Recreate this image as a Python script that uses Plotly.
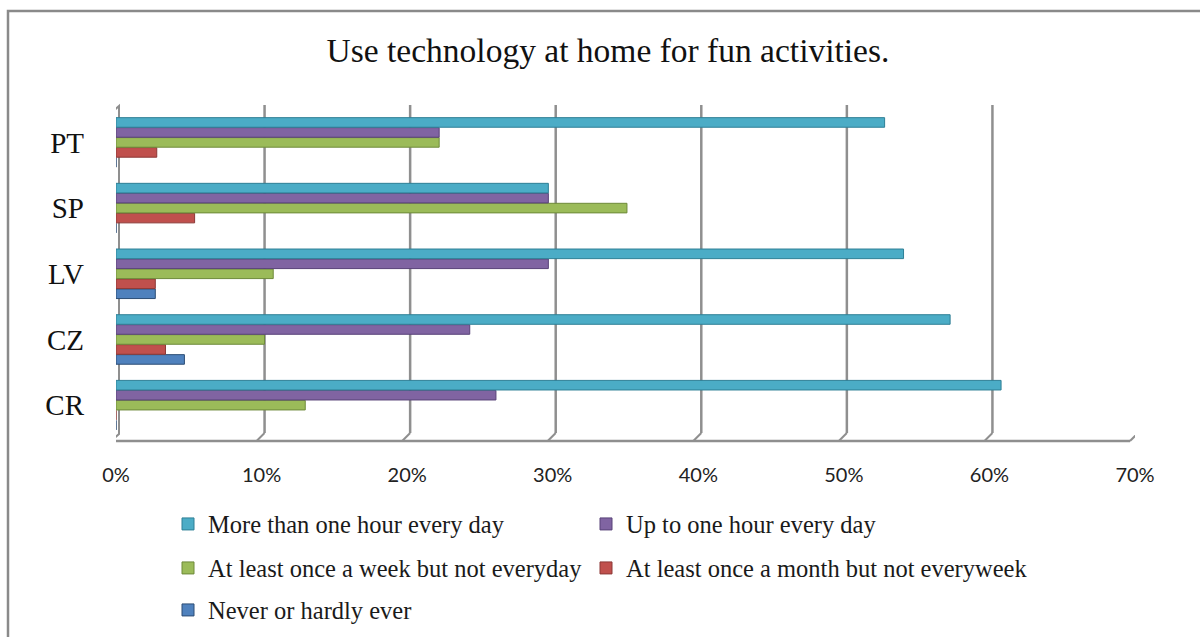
import plotly.graph_objects as go

# Survey answers by country (share of pupils)
countries = ["CR", "CZ", "LV", "SP", "PT"]
never_or_hardly = [0.0, 4.7, 2.7, 0.0, 0.0]
month_not_week = [0.0, 3.4, 2.7, 5.4, 2.8]
week_not_day = [13.0, 10.2, 10.8, 35.1, 22.2]
up_to_hour_daily = [26.1, 24.3, 29.7, 29.7, 22.2]
over_hour_daily = [60.8, 57.3, 54.1, 29.7, 52.8]
x_tick_vals = [0, 10, 20, 30, 40, 50, 60, 70]
x_tick_text = ["0%", "10%", "20%", "30%", "40%", "50%", "60%", "70%"]

W, H = 1200, 637
M_L, M_R, M_T, M_B = 116, 65, 103, 199
PLOT_W = W - M_L - M_R
PLOT_H = H - M_T - M_B
X_MAX = 0.70

def dx(px):
    """pixel offset -> x data offset"""
    return px * X_MAX / PLOT_W

def py(pix):
    """page y pixel -> paper y"""
    return (H - M_B - pix) / PLOT_H

def px(pix):
    """page x pixel -> paper x"""
    return (pix - M_L) / PLOT_W

series = [
    # name, values, fill, edge, legend id
    ("Never or hardly ever", never_or_hardly, "#4F81BD", "#2C4D75", "legend5"),
    ("At least once a month but not everyweek", month_not_week, "#C0504D", "#8C3836", "legend4"),
    ("At least once a week but not everyday", week_not_day, "#9BBB59", "#6E8A3A", "legend3"),
    ("Up to one hour every day", up_to_hour_daily, "#8064A2", "#584278", "legend2"),
    ("More than one hour every day", over_hour_daily, "#4BACC6", "#2E7F96", "legend"),
]

fig = go.Figure()
for name, vals, fill, edge, leg in series:
    fig.add_trace(go.Bar(
        y=countries,
        x=[v / 100 for v in vals],
        orientation="h",
        name=name,
        legend=leg,
        showlegend=True,
        marker=dict(color=fill, line=dict(color=edge, width=1)),
        hoverinfo="x+y+name",
    ))

grid_col = "#8f8f8f"
shapes = []
# back-wall gridlines with a short slanted foot down to the floor edge
for v in x_tick_vals[1:]:
    xv = v / 100
    shapes.append(dict(type="line", xref="x", yref="paper",
                       x0=xv + dx(3), x1=xv + dx(3), y0=py(433), y1=py(105),
                       line=dict(color=grid_col, width=2.5), layer="below"))
    shapes.append(dict(type="line", xref="x", yref="paper",
                       x0=xv + dx(3), x1=xv - dx(5), y0=py(433), y1=py(441),
                       line=dict(color=grid_col, width=2), layer="below"))
# floor front edge
shapes.append(dict(type="line", xref="x", yref="paper",
                   x0=-dx(5), x1=X_MAX - dx(5), y0=py(441), y1=py(441),
                   line=dict(color=grid_col, width=2.5), layer="below"))
# left wall
shapes.append(dict(type="path", xref="x", yref="paper",
                   path=(f"M {-dx(5)},{py(441)} L {-dx(5)},{py(113)} "
                         f"L {dx(3)},{py(106)} L {dx(3)},{py(434)} Z"),
                   fillcolor="white", line=dict(color=grid_col, width=2),
                   layer="below"))
# outer chart border
shapes.append(dict(type="rect", xref="paper", yref="paper",
                   x0=px(8), x1=px(1215), y0=py(700), y1=py(11),
                   line=dict(color="#8a8a8a", width=2.5), fillcolor="rgba(0,0,0,0)"))

legend_font = dict(family="Liberation Serif", size=24.5, color="#1a1a1a")
col1, col2 = px(168), px(586)
row1, row2, row3 = py(524), py(568), py(610)

def leg(x, y):
    return dict(x=x, y=y, xanchor="left", yanchor="middle", orientation="h",
                font=legend_font, bgcolor="rgba(0,0,0,0)", itemclick=False,
                visible=True)

fig.update_layout(
    width=W, height=H,
    margin=dict(l=M_L, r=M_R, t=M_T, b=M_B, pad=0, autoexpand=False),
    paper_bgcolor="white", plot_bgcolor="rgba(0,0,0,0)",
    showlegend=True,
    barmode="group", bargap=0.24, bargroupgap=0.04,
    title=dict(text="Use technology at home for fun activities.",
               x=608 / W, xref="container", xanchor="center",
               y=1 - 50 / H, yref="container", yanchor="middle",
               font=dict(family="Liberation Serif", size=33.5, color="#111")),
    xaxis=dict(range=[0, X_MAX], tickvals=[v / 100 for v in x_tick_vals],
               ticktext=x_tick_text, showgrid=False, zeroline=False,
               showline=False, ticks="", ticklabelstandoff=23,
               tickfont=dict(family="Lato", size=20, color="#222")),
    yaxis=dict(type="category", categoryorder="array", categoryarray=countries,
               range=[-0.5, 4.6], showgrid=False, zeroline=False,
               showline=False, ticks="", ticklabelstandoff=31,
               tickfont=dict(family="Liberation Serif", size=29, color="#111")),
    legend=leg(col1, row1),
    legend2=leg(col2, row1),
    legend3=leg(col1, row2),
    legend4=leg(col2, row2),
    legend5=leg(col1, row3),
    shapes=shapes,
)

fig.write_html("out.html")
